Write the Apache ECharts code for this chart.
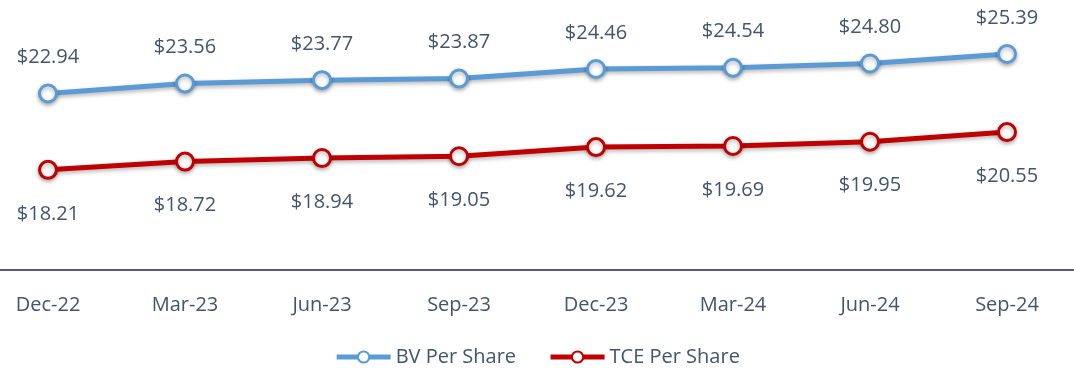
<!DOCTYPE html>
<html>
<head>
<meta charset="utf-8">
<script src="https://cdn.jsdelivr.net/npm/echarts@6/dist/echarts.min.js"></script>
<style>
  html, body { margin: 0; padding: 0; background: #ffffff; }
  #chart { width: 1074px; height: 369px; }
</style>
</head>
<body>
<div id="chart"></div>
<script>
// Quarter-end labels
const quarters = ['Dec-22', 'Mar-23', 'Jun-23', 'Sep-23', 'Dec-23', 'Mar-24', 'Jun-24', 'Sep-24'];
// Book value per share
const bvPerShare = [22.94, 23.56, 23.77, 23.87, 24.46, 24.54, 24.80, 25.39];
// Tangible common equity per share
const tcePerShare = [18.21, 18.72, 18.94, 19.05, 19.62, 19.69, 19.95, 20.55];

const textColor = '#44546A';
const fontFamily = '"Open Sans", "Noto Sans", sans-serif';

function lineSeries(name, data, color, labelPos, labelDist) {
  return {
    name: name,
    type: 'line',
    data: data,
    xAxisIndex: 0,
    yAxisIndex: 0,
    symbol: 'circle',
    symbolSize: 17,
    lineStyle: {
      color: color, width: 5,
      shadowColor: 'rgba(0,0,0,0.3)', shadowBlur: 4, shadowOffsetY: 2
    },
    itemStyle: {
      color: '#ffffff', borderColor: color, borderWidth: 3,
      shadowColor: 'rgba(0,0,0,0.3)', shadowBlur: 4, shadowOffsetY: 2
    },
    label: {
      show: true,
      position: labelPos,
      distance: labelDist,
      color: textColor,
      fontFamily: fontFamily,
      fontSize: 20,
      formatter: p => '$' + p.value.toFixed(2)
    },
    emphasis: { disabled: true },
    animation: false
  };
}

const chart = echarts.init(document.getElementById('chart'));
chart.setOption({
  animation: false,
  grid: [
    // plotting area for the two series
    { left: 48, right: 67, top: 20, bottom: 99 },
    // full-width baseline
    { left: 0, right: 0, top: 20, bottom: 99 }
  ],
  legend: {
    top: 342,
    left: 'center',
    itemWidth: 54,
    itemHeight: 14,
    itemGap: 32,
    lineStyle: { width: 5 },
    textStyle: { color: textColor, fontFamily: fontFamily, fontSize: 20 },
    data: ['BV Per Share', 'TCE Per Share']
  },
  xAxis: [
    {
      gridIndex: 0,
      type: 'category',
      data: quarters,
      boundaryGap: false,
      axisLine: { show: false },
      axisTick: { show: false },
      axisLabel: {
        color: textColor, fontFamily: fontFamily, fontSize: 20, margin: 25
      }
    },
    {
      gridIndex: 1,
      type: 'category',
      data: quarters,
      axisLine: { lineStyle: { color: '#595a75', width: 2 } },
      axisTick: { show: false },
      axisLabel: { show: false }
    }
  ],
  yAxis: [
    { gridIndex: 0, type: 'value', min: 12, max: 27.5, show: false, splitLine: { show: false } },
    { gridIndex: 1, type: 'value', min: 12, max: 27.5, show: false, splitLine: { show: false } }
  ],
  series: [
    lineSeries('BV Per Share', bvPerShare, '#5B9BD5', 'top', 16),
    lineSeries('TCE Per Share', tcePerShare, '#C00000', 'bottom', 24)
  ]
});
</script>
</body>
</html>
